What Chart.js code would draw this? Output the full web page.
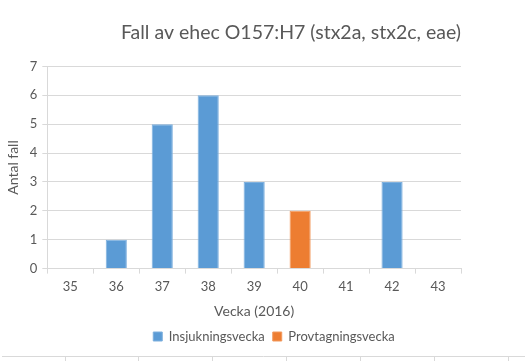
<!DOCTYPE html>
<html>
<head>
<meta charset="utf-8">
<script src="https://cdn.jsdelivr.net/npm/chart.js@4/dist/chart.umd.min.js"></script>
<style>
  html, body { margin: 0; padding: 0; background: #fff; }
  #wrap { width: 525px; height: 361px; position: relative; }
</style>
</head>
<body>
<div id="wrap"><canvas id="ehec-chart" width="525" height="361"></canvas></div>
<script>
const weeks = ["35", "36", "37", "38", "39", "40", "41", "42", "43"];
const insjukning = [0, 1, 5, 6, 3, null, 0, 3, 0];
const provtagning = [null, null, null, null, null, 2, null, null, null];
const yTicks = [0, 1, 2, 3, 4, 5, 6, 7];

const textGrey = "#595959";
const gridGrey = "#d9d9d9";
Chart.defaults.font.family = "Lato, 'Noto Sans', sans-serif";
Chart.defaults.color = textGrey;

// shift legend to the right, like the original
const legendShift = {
  id: "legendShift",
  afterLayout(chart) {
    chart.legend.left += 41;
    chart.legend.right += 41;
  },
};

// the spreadsheet cell border at the bottom of the picture
const sheetLine = {
  id: "sheetLine",
  afterDraw(chart) {
    const c = chart.ctx;
    c.save();
    c.strokeStyle = gridGrey;
    c.lineWidth = 1;
    c.beginPath();
    c.moveTo(2, 356.5);
    c.lineTo(525, 356.5);
    [65, 138, 212, 286, 360, 434, 508].forEach((x) => {
      c.moveTo(x + 0.5, 356.5);
      c.lineTo(x + 0.5, 361);
    });
    c.stroke();
    c.restore();
  },
};

const ctx = document.getElementById("ehec-chart").getContext("2d");
const myChart = new Chart(ctx, {
  type: "bar",
  data: {
    labels: weeks,
    datasets: [
      {
        label: "Insjukningsvecka",
        data: insjukning,
        backgroundColor: "#5b9bd5",
        borderColor: "#7eb0de",
        borderWidth: 1,
      },
      {
        label: "Provtagningsvecka",
        data: provtagning,
        backgroundColor: "#ed7d31",
        borderColor: "#f29a5e",
        borderWidth: 1,
      },
    ],
  },
  options: {
    responsive: false,
    animation: false,
    layout: {
      padding: { left: 5, right: 64, top: 0, bottom: 8 },
    },
    datasets: {
      bar: {
        grouped: false,
        barPercentage: 0.46,
        categoryPercentage: 1,
      },
    },
    scales: {
      x: {
        offset: true,
        grid: {
          offset: true,
          drawOnChartArea: false,
          drawTicks: true,
          tickLength: 5,
          color: gridGrey,
        },
        border: { color: gridGrey },
        ticks: { font: { size: 13 }, padding: 5, color: textGrey },
        title: {
          display: true,
          text: "Vecka (2016)",
          font: { size: 14 },
          color: textGrey,
          padding: { top: 4, bottom: 2 },
        },
      },
      y: {
        min: 0,
        max: 7,
        afterBuildTicks(axis) {
          axis.ticks = yTicks.map((v) => ({ value: v }));
        },
        grid: { color: gridGrey, tickLength: 5 },
        border: { color: gridGrey },
        ticks: { font: { size: 13 }, padding: 5, color: textGrey },
        title: {
          display: true,
          text: "Antal fall",
          font: { size: 14 },
          color: textGrey,
          padding: { top: 0, bottom: 3 },
        },
      },
    },
    plugins: {
      title: {
        display: true,
        text: "Fall av ehec O157:H7 (stx2a, stx2c, eae)",
        align: "end",
        font: { size: 19.5, weight: "normal" },
        color: textGrey,
        padding: { top: 21, bottom: 22 },
      },
      legend: {
        position: "bottom",
        labels: {
          boxWidth: 9,
          boxHeight: 9,
          font: { size: 13 },
          color: textGrey,
          padding: 8,
        },
      },
      tooltip: { enabled: false },
    },
  },
  plugins: [legendShift, sheetLine],
});
</script>
</body>
</html>
